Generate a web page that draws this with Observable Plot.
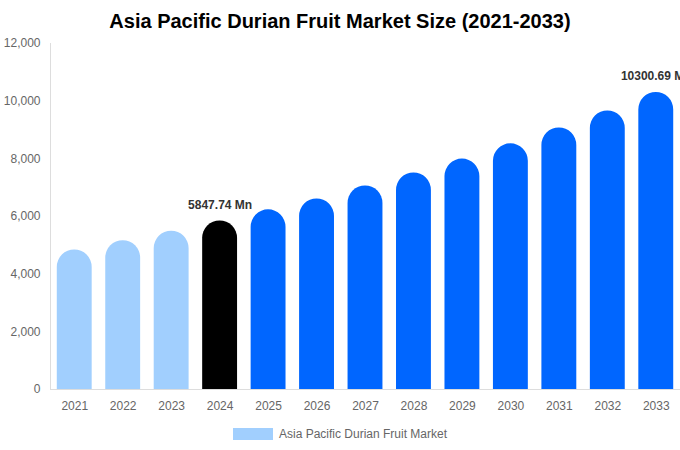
<!DOCTYPE html>
<html>
<head>
<meta charset="utf-8">
<script src="https://cdn.jsdelivr.net/npm/d3@7"></script>
<script src="https://cdn.jsdelivr.net/npm/@observablehq/plot@0.6"></script>
<style>
  body { margin: 0; background: #fff; font-family: "Liberation Sans", Arial, sans-serif; }
  #title { height: 36px; line-height: 43px; text-align: center; font-size: 20px; font-weight: bold; color: #000; }
  #legend { display: flex; justify-content: center; align-items: center; font-size: 12px; color: #666; margin-top: 6px; }
  #legend .sw { width: 40px; height: 12px; background: #a1cffe; margin-right: 6px; }
</style>
</head>
<body>
<div id="title">Asia Pacific Durian Fruit Market Size (2021-2033)</div>
<div id="chart"></div>
<div id="legend"><div class="sw"></div><span>Asia Pacific Durian Fruit Market</span></div>
<script>
const years = ["2021","2022","2023","2024","2025","2026","2027","2028","2029","2030","2031","2032","2033"];
const values = [4840, 5160, 5490, 5847.74, 6230, 6610, 7060, 7510, 7990, 8520, 9070, 9660, 10300.69];
const colors = ["#a1cffe","#a1cffe","#a1cffe","#000000","#0066ff","#0066ff","#0066ff","#0066ff","#0066ff","#0066ff","#0066ff","#0066ff","#0066ff"];
const labeled = ["2024", "2033"];
const yTicks = [0, 2000, 4000, 6000, 8000, 10000, 12000];

const data = years.map((y, i) => ({year: y, value: values[i], color: colors[i]}));
const labels = data.filter(d => labeled.includes(d.year));

const chart = Plot.plot({
  width: 680,
  height: 385,
  marginTop: 7,
  marginBottom: 32,
  marginLeft: 50,
  marginRight: 0,
  style: {fontFamily: "'Liberation Sans', Arial, sans-serif", fontSize: "12px", color: "#666", background: "#fff", overflow: "visible"},
  x: {domain: years, paddingInner: 0.28, paddingOuter: 0.14, round: false, label: null},
  y: {domain: [0, 12000], label: null},
  marks: [
    Plot.barY(data, {x: "year", y: "value", fill: "color", rx1y1: 17.5, rx2y1: 17.5}),
    Plot.frame({anchor: "left", stroke: "#ddd"}),
    Plot.ruleY([0], {stroke: "#ddd"}),
    Plot.axisY({ticks: yTicks, tickSize: 0, tickPadding: 10, tickFormat: d3.format(","), fill: "#666", fontSize: 12}),
    Plot.axisX({tickSize: 0, tickPadding: 12, fill: "#666", fontSize: 12}),
    Plot.text(labels, {x: "year", y: "value", text: d => d.value.toFixed(2) + " Mn", dy: -16, fontWeight: "bold", fill: "#333", fontSize: 12})
  ]
});
document.getElementById("chart").appendChild(chart);
</script>
</body>
</html>
